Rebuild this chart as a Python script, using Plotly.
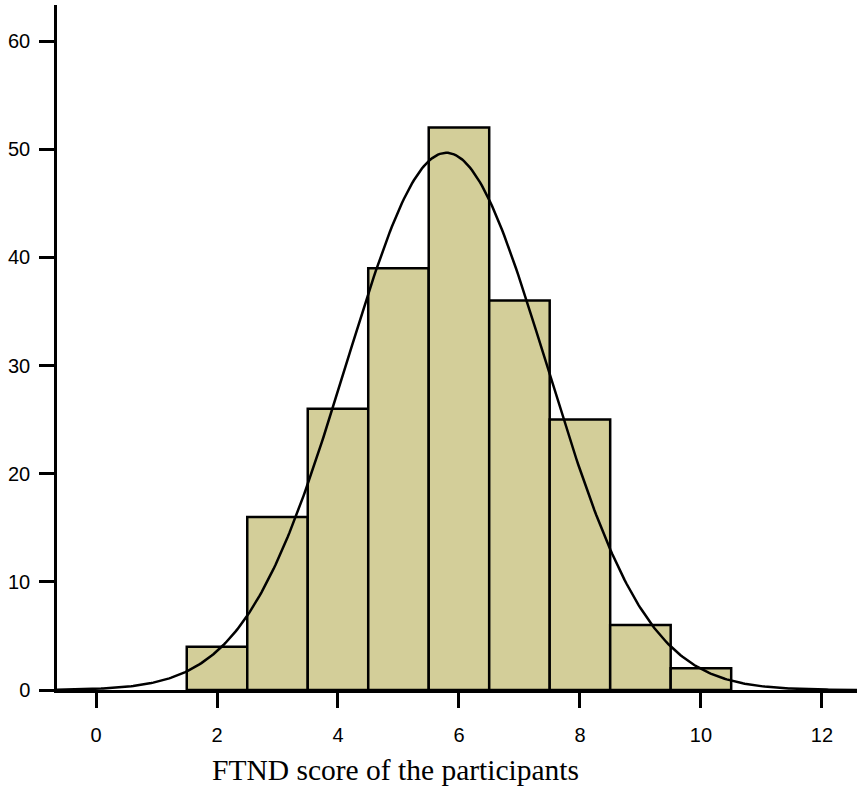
import numpy as np
import plotly.graph_objects as go

scores = [2, 3, 4, 5, 6, 7, 8, 9, 10]
counts = [4, 16, 26, 39, 52, 36, 25, 6, 2]
x_ticks = [0, 2, 4, 6, 8, 10, 12]
y_ticks = [0, 10, 20, 30, 40, 50, 60]

# fitted normal curve parameters derived from the histogram
n_total = sum(counts)
mean = sum(s * c for s, c in zip(scores, counts)) / n_total
sd = (sum(s * s * c for s, c in zip(scores, counts)) / n_total - mean ** 2) ** 0.5
xr = [-0.645, 12.58]
xc = np.linspace(xr[0], xr[1], 400)
yc = n_total / (sd * np.sqrt(2 * np.pi)) * np.exp(-0.5 * ((xc - mean) / sd) ** 2)

fig = go.Figure()
fig.add_trace(go.Bar(x=scores, y=counts, width=1,
                     marker=dict(color="#D3CE99", line=dict(color="black", width=2.5)),
                     hoverinfo="x+y"))
fig.add_trace(go.Scatter(x=xc, y=yc, mode="lines",
                         line=dict(color="black", width=2.5)))

fig.update_layout(
    width=857, height=792,
    margin=dict(l=57, r=0, t=5, b=102),
    paper_bgcolor="white", plot_bgcolor="white",
    showlegend=False,
    font=dict(family="Liberation Sans, Arial, sans-serif", size=20, color="black"),
    xaxis=dict(range=xr, tickvals=x_ticks, ticks="outside", ticklen=15, tickwidth=2.5,
               tickcolor="black", showline=True, linecolor="black", linewidth=2.5,
               showgrid=False, zeroline=False, ticklabelstandoff=10),
    yaxis=dict(range=[0, 63.33], tickvals=y_ticks, ticks="outside", ticklen=15, tickwidth=2.5,
               tickcolor="black", showline=True, linecolor="black", linewidth=2.5,
               showgrid=False, zeroline=False, ticklabelstandoff=5),
    annotations=[dict(text="FTND score of the participants", xref="paper", yref="paper",
                      x=(395 - 57) / 800, y=-80 / 685, xanchor="center", yanchor="middle",
                      showarrow=False,
                      font=dict(family="Liberation Serif, Times New Roman, serif", size=29.5))],
)
fig.write_html("out.html", config={"displayModeBar": False},
               post_script="document.body.style.margin='0px';document.body.style.overflow='hidden';")
